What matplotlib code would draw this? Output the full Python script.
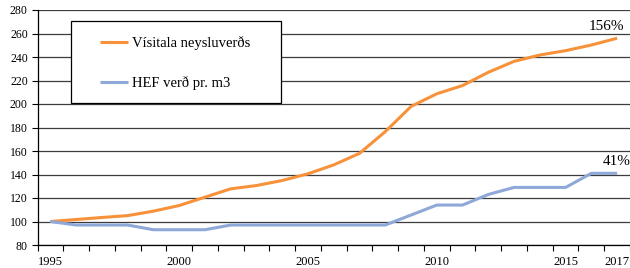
import matplotlib.pyplot as plt
from matplotlib.patches import Rectangle

# Gögn (vísitala, 1995 = 100)
years = list(range(1995, 2018))
visitala = [100, 101.7, 103.4, 105, 108.8, 113.6, 120.7, 127.8, 130.6, 134.9,
            140.6, 148.2, 158, 176.5, 197.9, 208.7, 215.7, 227, 236.3, 241.7,
            245.4, 250.2, 256]
hef = [100, 97, 97, 97, 93, 93, 93, 97, 97, 97,
       97, 97, 97, 97, 105.5, 114, 114, 123, 129, 129,
       129, 141, 141]
labels = ['Vísitala neysluverðs', 'HEF verð pr. m3']
shown_years = [1995, 2000, 2005, 2010, 2015, 2017]

plt.rcParams['font.family'] = ['Liberation Serif', 'DejaVu Serif']

fig = plt.figure(figsize=(6.3, 2.68), dpi=100)
ax = fig.add_axes([37.5 / 630, 1 - 245 / 268, 1 - 37.5 / 630, 235 / 268])

x = list(range(len(years)))
l1, = ax.plot(x, visitala, color='#F7923A', lw=2.2, solid_capstyle='butt', zorder=3)
l2, = ax.plot(x, hef, color='#8EA8D8', lw=2.2, solid_capstyle='butt', zorder=3)

ax.set_xlim(-0.5, len(years) - 0.5)
ax.set_ylim(80, 280)
ax.set_yticks(range(80, 281, 20))
ax.grid(axis='y', color='#3c3c3c', lw=0.9)
ax.set_axisbelow(True)

ax.set_xticks([years.index(y) for y in shown_years])
ax.set_xticklabels([str(y) for y in shown_years])
ax.set_xticks([i - 0.5 for i in range(len(years) + 1)], minor=True)
ax.tick_params(axis='x', which='major', length=0, pad=8, labelsize=9)
ax.tick_params(axis='x', which='minor', length=4, width=0.8, direction='out')
ax.tick_params(axis='y', length=4, width=0.8, pad=3, labelsize=8.5)

for s in ['top', 'right']:
    ax.spines[s].set_visible(False)
ax.spines['left'].set_linewidth(0.9)
ax.spines['bottom'].set_linewidth(0.9)

# prósentubreyting við enda lína
ax.annotate(f'{round(visitala[-1] - 100)}%', xy=(x[-1], visitala[-1]),
            xytext=(5, 4), textcoords='offset points', ha='right', va='bottom',
            fontsize=11)
ax.annotate(f'{round(hef[-1] - 100)}%', xy=(x[-1], hef[-1]),
            xytext=(10, 3.5), textcoords='offset points', ha='right', va='bottom',
            fontsize=11, annotation_clip=False)

# skýringarkassi
fig.patches.append(Rectangle((71 / 630, 1 - 103 / 268), 210 / 630, 82 / 268,
                             transform=fig.transFigure, facecolor='white',
                             edgecolor='black', lw=0.9, zorder=5))
leg = fig.legend([l1, l2], labels, loc='center', bbox_to_anchor=(175 / 630, 1 - 63 / 268),
                 frameon=False, fontsize=10.5, handlelength=1.9, handletextpad=0.25,
                 labelspacing=1.75)
leg.set_zorder(6)

fig.savefig('out.png', dpi=100)
